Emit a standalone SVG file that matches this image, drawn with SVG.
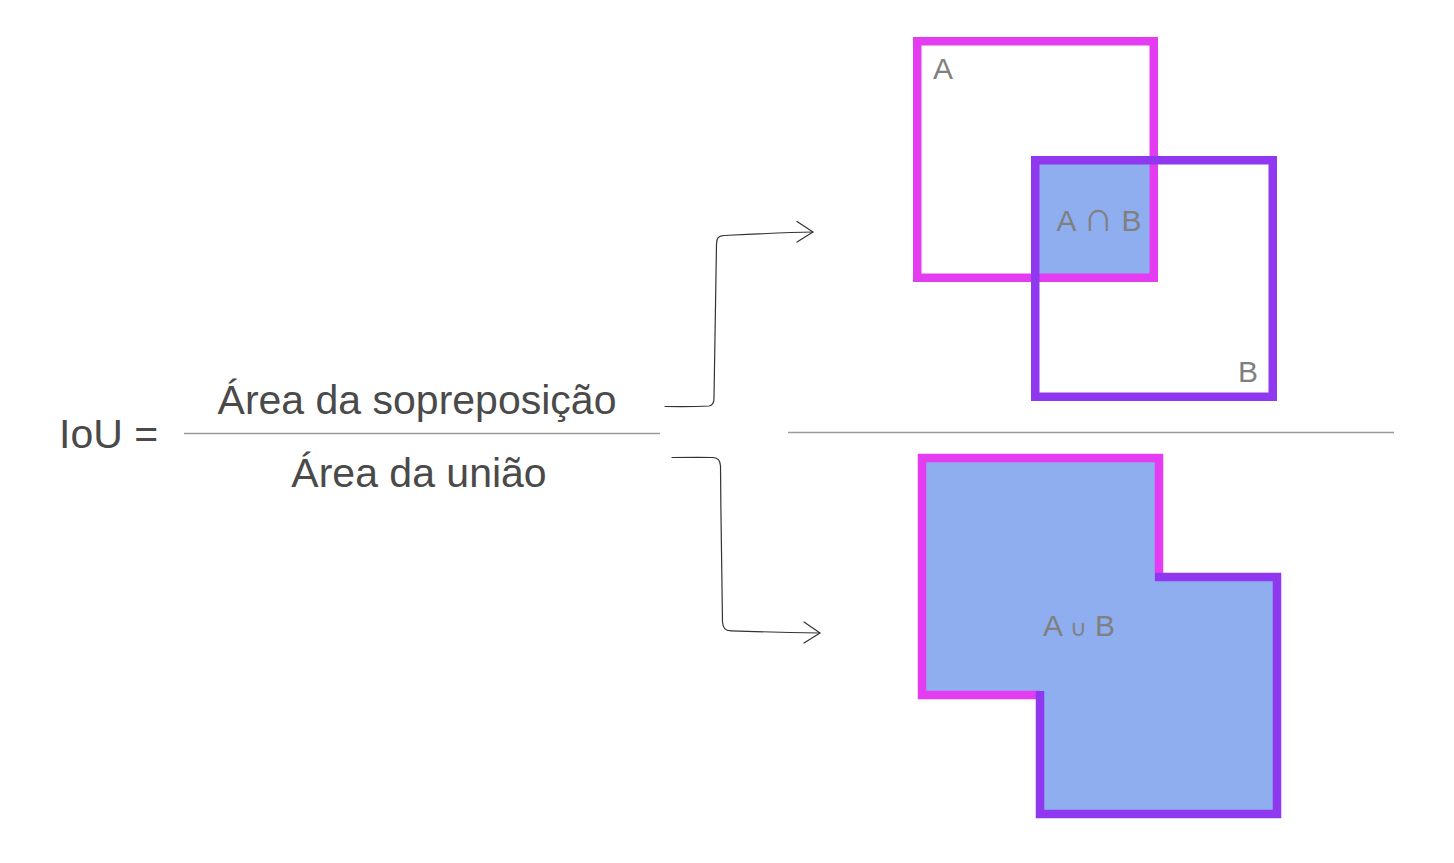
<svg xmlns="http://www.w3.org/2000/svg" width="1454" height="863" viewBox="0 0 1454 863">
<style>
.bg{fill:#ffffff}
.eq{font-family:"Liberation Sans",Arial,sans-serif;font-size:41px;fill:#4a4a4a}
.lbl{font-family:"Liberation Sans",Arial,sans-serif;font-size:30px;fill:#808080}
.rule{stroke:#9a9a9a;stroke-width:1.3;fill:none}
.conn{stroke:#333333;stroke-width:1.2;fill:none;stroke-linecap:round;stroke-linejoin:round}
.pink{stroke:#e43cf0;stroke-width:8.5;fill:none}
.purple{stroke:#9038ef;stroke-width:8.5;fill:none}
.fillb{fill:#8eaef0}
</style>
<rect class="bg" x="0" y="0" width="1454" height="863"/>
<g id="formula">
  <text class="eq" x="59" y="448">IoU =</text>
  <text class="eq" x="417" y="414" text-anchor="middle">Área da sopreposição</text>
  <line class="rule" x1="184" y1="433.5" x2="660" y2="433.5"/>
  <text class="eq" x="419" y="487" text-anchor="middle">Área da união</text>
</g>
<line id="divider" class="rule" x1="788" y1="432.5" x2="1394" y2="432.5"/>
<g id="intersection">
  <rect class="fillb" x="1039" y="164" width="111" height="110"/>
  <rect class="pink" x="917.25" y="41.25" width="236.5" height="236.5"/>
  <rect class="purple" x="1035.25" y="160.25" width="237.5" height="236.5"/>
  <text class="lbl" x="933" y="79">A</text>
  <text class="lbl" x="1099" y="231" text-anchor="middle">A <tspan font-size="42">∩</tspan> B</text>
  <text class="lbl" x="1238" y="382">B</text>
</g>
<g id="union">
  <path class="fillb" d="M922 458 H1159 V577 H1277 V814 H1040 V695 H922 Z"/>
  <path class="pink" d="M1040 695 H922 V458 H1159 V581"/>
  <path class="purple" d="M1155 577 H1277 V814 H1040 V691"/>
  <text class="lbl" x="1079" y="636" text-anchor="middle">A <tspan font-size="23">∪</tspan> B</text>
</g>
<g id="connectors">
  <path class="conn" d="M665 406.5 C685 406.8 700 406.5 709 406 C713 405.5 714 403 714 398 C714.5 340 715.5 290 716.5 244 C716.8 238 718 236 724 235.5 C755 234 785 232.5 813 232"/>
  <path class="conn" d="M797 221.5 L813 232 L797 242"/>
  <path class="conn" d="M672 457.5 C690 457.3 703 457.2 713 457.5 C718 458 720 460 720.5 466 C721 520 721.5 580 722.5 622 C723 628 725 630.5 731 630.8 C760 631.8 790 632.5 820 633"/>
  <path class="conn" d="M804 622 L820 633 L804 643"/>
</g>
</svg>
